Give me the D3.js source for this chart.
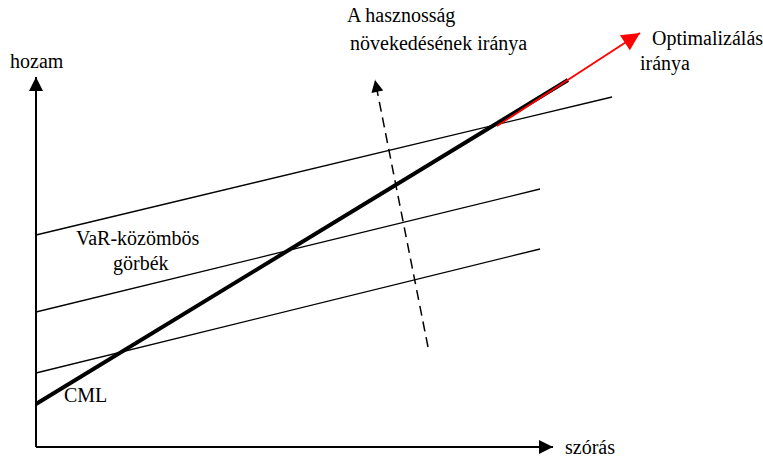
<!DOCTYPE html>
<html>
<head>
<meta charset="utf-8">
<script src="https://cdn.jsdelivr.net/npm/d3@7"></script>
<style>
    body { margin: 0; background: #fff; }
</style>
</head>
<body>
<div id="chart"></div>
<script>
// szórás (x) and hozam (y) values, in chart units
var axisMax = { x: 517, y: 370 };

var indifferenceCurves = [
    { x0: 0, y0: 212, x1: 576, y1: 350 },
    { x0: 0, y0: 135, x1: 504, y1: 258 },
    { x0: 0, y0: 74, x1: 504, y1: 198 }
];

var cml = { x0: 0, y0: 43, x1: 532, y1: 367 };
var optimumArrow = { x0: 461, y0: 321, x1: 604, y1: 414 };
var utilityArrow = { x0: 392, y0: 100, x1: 339, y1: 367 };

var labels = [
    { text: 'hozam', x: -26, y: 379 },
    { text: 'szórás', x: 529, y: -7 },
    { text: 'A hasznosság', x: 311, y: 425 },
    { text: 'növekedésének iránya', x: 314, y: 397 },
    { text: 'Optimalizálás', x: 616, y: 402 },
    { text: 'iránya', x: 604, y: 377 },
    { text: 'VaR-közömbös', x: 40, y: 202 },
    { text: 'görbék', x: 77, y: 177 },
    { text: 'CML', x: 28, y: 45 }
];

var width = 763, height = 459;

var svg = d3.select('#chart')
    .append('svg')
    .attr('width', width)
    .attr('height', height);

var x = d3.scaleLinear().domain([0, 517]).range([36, 553]);
var y = d3.scaleLinear().domain([0, 370]).range([447, 77]);

var defs = svg.append('defs');

function marker(id, color, w, h) {
    defs.append('marker')
        .attr('id', id)
        .attr('viewBox', '0 0 10 10')
        .attr('refX', 10)
        .attr('refY', 5)
        .attr('markerUnits', 'userSpaceOnUse')
        .attr('markerWidth', w)
        .attr('markerHeight', h)
        .attr('orient', 'auto')
        .append('path')
        .attr('d', 'M0,0 L10,5 L0,10 Z')
        .attr('fill', color);
}
marker('arrow-black', '#000', 16, 14);
marker('arrow-red', '#f00', 22, 18);
marker('arrow-dash', '#000', 18, 12);

function seg(d) {
    return d3.line()([[x(d.x0), y(d.y0)], [x(d.x1), y(d.y1)]]);
}

// axes
svg.append('path')
    .attr('d', seg({ x0: 0, y0: 0, x1: 0, y1: axisMax.y }))
    .attr('stroke', '#000').attr('stroke-width', 2).attr('fill', 'none')
    .attr('marker-end', 'url(#arrow-black)');

svg.append('path')
    .attr('d', seg({ x0: 0, y0: 0, x1: axisMax.x, y1: 0 }))
    .attr('stroke', '#000').attr('stroke-width', 2).attr('fill', 'none')
    .attr('marker-end', 'url(#arrow-black)');

// VaR indifference curves
svg.selectAll('.curve')
    .data(indifferenceCurves)
    .enter().append('path')
    .attr('class', 'curve')
    .attr('d', seg)
    .attr('stroke', '#000').attr('stroke-width', 1.3).attr('fill', 'none');

// CML
svg.append('path')
    .attr('d', seg(cml))
    .attr('stroke', '#000').attr('stroke-width', 4).attr('fill', 'none');

// optimisation direction
svg.append('path')
    .attr('d', seg(optimumArrow))
    .attr('stroke', '#f00').attr('stroke-width', 1.8).attr('fill', 'none')
    .attr('marker-end', 'url(#arrow-red)');

// utility growth direction
svg.append('path')
    .attr('d', seg(utilityArrow))
    .attr('stroke', '#000').attr('stroke-width', 1.5).attr('fill', 'none')
    .attr('stroke-dasharray', '10,6')
    .attr('marker-end', 'url(#arrow-dash)');

svg.selectAll('.label')
    .data(labels)
    .enter().append('text')
    .attr('class', 'label')
    .attr('x', d => x(d.x))
    .attr('y', d => y(d.y))
    .style('font-family', 'Liberation Serif')
    .style('font-size', '20px')
    .style('fill', '#000')
    .text(d => d.text);
</script>
</body>
</html>
